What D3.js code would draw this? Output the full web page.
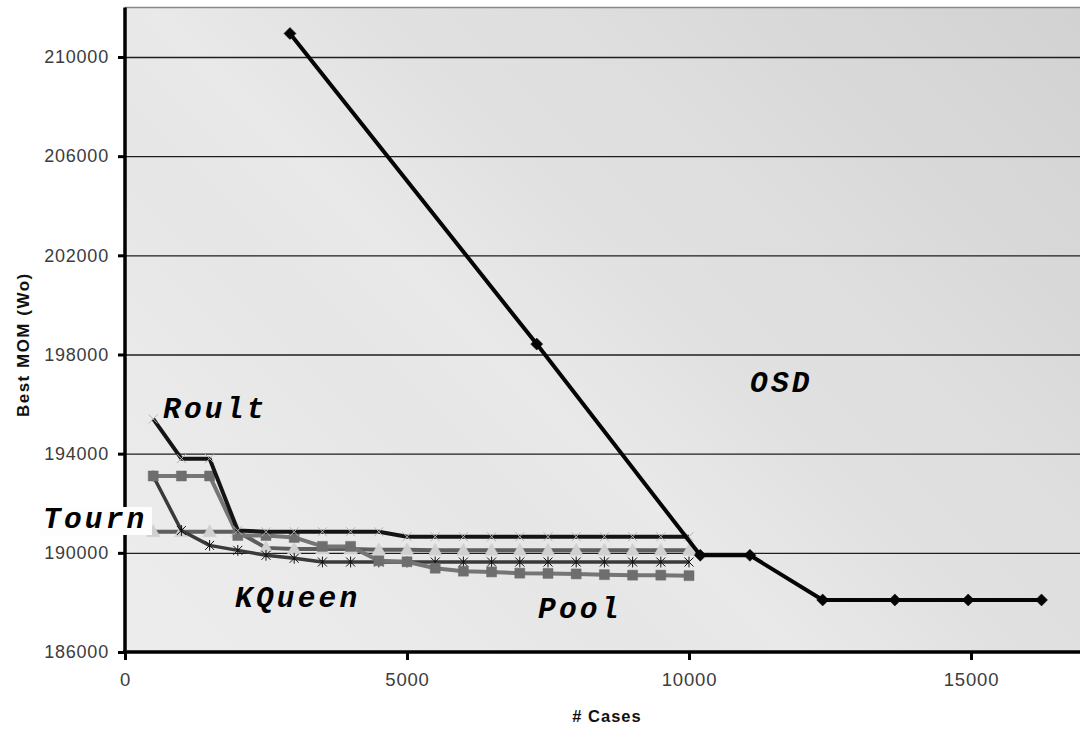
<!DOCTYPE html>
<html>
<head>
<meta charset="utf-8">
<script src="https://cdn.jsdelivr.net/npm/d3@7"></script>
<style>
  body { margin: 0; background: #fff; }
  svg { display: block; }
</style>
</head>
<body>
<svg id="chart" width="1080" height="729"></svg>
<script>
// ---- data ----
const cases = [500, 1000, 1500, 2000, 2500, 3000, 3500, 4000, 4500, 5000,
               5500, 6000, 6500, 7000, 7500, 8000, 8500, 9000, 9500, 10000];
const roult  = [195400, 193800, 193800, 190900, 190850, 190850, 190850, 190850, 190850, 190650,
                190650, 190650, 190650, 190650, 190650, 190650, 190650, 190650, 190650, 190650];
const pool   = [193100, 193100, 193100, 190700, 190700, 190620, 190260, 190260, 189680, 189640,
                189380, 189260, 189230, 189180, 189170, 189150, 189120, 189100, 189100, 189080];
const tourn  = [190850, 190850, 190850, 190850, 190200, 190150, 190150, 190150, 190120, 190120,
                190100, 190100, 190100, 190100, 190100, 190100, 190100, 190100, 190100, 190100];
const kqueen = [193100, 190900, 190300, 190100, 189900, 189780, 189630, 189630, 189630, 189630,
                189630, 189630, 189630, 189630, 189630, 189630, 189630, 189630, 189630, 189630];
const osdCases = [2925, 7300, 10200, 11080, 12370, 13650, 14950, 16250];
const osd      = [210950, 198420, 189900, 189900, 188100, 188100, 188100, 188100];

const yTicks = [186000, 190000, 194000, 198000, 202000, 206000, 210000];
const xTicks = [0, 5000, 10000, 15000];
const seriesNames = ["Roult", "Tourn", "KQueen", "Pool", "OSD"];

// ---- layout ----
const plotLeft = 125, plotBottom = 652, plotRight = 1080;
const svg = d3.select("#chart");

const x = d3.scaleLinear().domain([0, 15000]).range([plotLeft, 971]);
const y = d3.scaleLinear().domain([186000, 210000]).range([plotBottom, 57]);
const plotTop = y(212000);

// ---- plot background: diagonal grey wash ----
const defs = svg.append("defs");
const span = ((plotRight - plotLeft) + (plotBottom - plotTop)) / 2;
const grad = defs.append("linearGradient")
  .attr("id", "wash").attr("gradientUnits", "userSpaceOnUse")
  .attr("x1", plotLeft).attr("y1", plotBottom)
  .attr("x2", plotLeft + span).attr("y2", plotBottom - span);
[[0, "#ececec"], [0.18, "#eaeaea"], [0.32, "#e6e6e6"], [0.42, "#e9e9e9"],
 [0.55, "#e1e1e1"], [0.68, "#dedede"], [0.8, "#d9d9d9"], [1, "#d2d2d2"]]
  .forEach(([o, c]) => grad.append("stop").attr("offset", o).attr("stop-color", c));

svg.append("rect")
  .attr("x", plotLeft).attr("y", plotTop)
  .attr("width", plotRight - plotLeft).attr("height", plotBottom - plotTop)
  .attr("fill", "url(#wash)");

// top border of the plot area
svg.append("line")
  .attr("x1", plotLeft).attr("x2", plotRight).attr("y1", plotTop).attr("y2", plotTop)
  .attr("stroke", "#8a8a8a").attr("stroke-width", 1.5);

// ---- horizontal gridlines ----
svg.append("g")
  .attr("transform", `translate(${plotLeft},0)`)
  .call(d3.axisLeft(y).tickValues(yTicks.slice(1)).tickSize(-(plotRight - plotLeft)).tickFormat(""))
  .call(g => g.select(".domain").remove())
  .call(g => g.selectAll("line").attr("stroke", "#1e1e1e").attr("stroke-width", 1.4));

// ---- axes ----
const yAxis = svg.append("g")
  .attr("transform", `translate(${plotLeft},0)`)
  .call(d3.axisLeft(y).tickValues(yTicks).tickSize(7).tickPadding(9).tickFormat(d3.format("d")));
yAxis.select(".domain").remove();
yAxis.selectAll("line").attr("stroke", "#000").attr("stroke-width", 3);
yAxis.selectAll("text")
  .attr("font-family", "Liberation Sans, Arial, sans-serif")
  .attr("font-size", 18).attr("fill", "#3c3c3c").attr("letter-spacing", 0.8);

const xAxis = svg.append("g")
  .attr("transform", `translate(0,${plotBottom})`)
  .call(d3.axisBottom(x).tickValues(xTicks).tickSize(8).tickPadding(13).tickFormat(d3.format("d")));
xAxis.select(".domain").remove();
xAxis.selectAll("line").attr("stroke", "#000").attr("stroke-width", 3);
xAxis.selectAll("text")
  .attr("font-family", "Liberation Sans, Arial, sans-serif")
  .attr("font-size", 18.5).attr("fill", "#3c3c3c").attr("letter-spacing", 0.8);

// axis lines
svg.append("line")
  .attr("x1", plotLeft).attr("x2", plotLeft).attr("y1", plotTop).attr("y2", plotBottom + 2)
  .attr("stroke", "#000").attr("stroke-width", 3.5);
svg.append("line")
  .attr("x1", plotLeft - 2).attr("x2", plotRight).attr("y1", plotBottom).attr("y2", plotBottom)
  .attr("stroke", "#000").attr("stroke-width", 3.5);

// axis titles
svg.append("text")
  .attr("transform", `translate(29,${(plotTop + plotBottom) / 2 + 15}) rotate(-90)`)
  .attr("text-anchor", "middle")
  .attr("font-family", "Liberation Sans, Arial, sans-serif")
  .attr("font-weight", "bold").attr("font-size", 17).attr("letter-spacing", 1.5)
  .attr("fill", "#111")
  .text("Best MOM (Wo)");
svg.append("text")
  .attr("x", 607).attr("y", 722)
  .attr("text-anchor", "middle")
  .attr("font-family", "Liberation Sans, Arial, sans-serif")
  .attr("font-weight", "bold").attr("font-size", 16.5).attr("letter-spacing", 1)
  .attr("fill", "#111")
  .text("# Cases");

// ---- series ----
const line = d3.line().x(d => x(d[0])).y(d => y(d[1]));
const zip = (xs, ys) => xs.map((v, i) => [v, ys[i]]);

// marker shapes (centred at origin)
const shapes = {
  square:   s => `M${-s},${-s}H${s}V${s}H${-s}Z`,
  diamond:  s => `M0,${-s}L${s},0L0,${s}L${-s},0Z`,
  triangle: s => `M0,${-s * 1.1}L${s * 1.05},${s * 0.75}L${-s * 1.05},${s * 0.75}Z`,
  cross:    s => `M${-s},${-s}L${s},${s}M${-s},${s}L${s},${-s}`,
  star:     s => `M${-s},${-s}L${s},${s}M${-s},${s}L${s},${-s}M0,${-s * 1.2}V${s * 1.2}`
};

function drawSeries(pts, o) {
  const g = svg.append("g");
  g.append("path")
    .attr("d", line(pts))
    .attr("fill", "none")
    .attr("stroke", o.stroke).attr("stroke-width", o.width)
    .attr("stroke-linejoin", "round");
  g.selectAll("path.m").data(pts).join("path")
    .attr("class", "m")
    .attr("transform", d => `translate(${x(d[0])},${y(d[1])})`)
    .attr("d", shapes[o.shape](o.size))
    .attr("fill", o.filled ? o.mfill : "none")
    .attr("stroke", o.mstroke).attr("stroke-width", o.mwidth);
}

drawSeries(zip(cases, tourn),  { stroke: "#5e5e5e", width: 4, shape: "triangle", size: 6.5,
  filled: true, mfill: "#d0d0d0", mstroke: "#d0d0d0", mwidth: 0.5 });
drawSeries(zip(cases, kqueen), { stroke: "#3a3a3a", width: 3.5, shape: "star", size: 4.5,
  filled: false, mstroke: "#111", mwidth: 1 });
drawSeries(zip(cases, pool),   { stroke: "#757575", width: 4, shape: "square", size: 5,
  filled: true, mfill: "#6e6e6e", mstroke: "#6e6e6e", mwidth: 0.5 });
drawSeries(zip(cases, roult),  { stroke: "#141414", width: 4, shape: "cross", size: 4.5,
  filled: false, mstroke: "#b4b4b4", mwidth: 1 });
drawSeries(zip(osdCases, osd), { stroke: "#050505", width: 4, shape: "diamond", size: 6,
  filled: true, mfill: "#050505", mstroke: "#050505", mwidth: 0.5 });

// ---- series labels ----
const labelFont = "Liberation Mono, Courier New, monospace";
const labelPos = [[163, 418], [43, 528], [235, 607], [538, 618], [750, 392]];

// white box behind the Tourn label
svg.append("rect")
  .attr("x", 40).attr("y", 507).attr("width", 112).attr("height", 28)
  .attr("fill", "#fdfdfd");

svg.append("g").selectAll("text").data(seriesNames).join("text")
  .attr("x", (d, i) => labelPos[i][0])
  .attr("y", (d, i) => labelPos[i][1])
  .attr("font-family", labelFont)
  .attr("font-weight", "bold").attr("font-style", "italic")
  .attr("font-size", 29.5).attr("letter-spacing", 3.2)
  .attr("fill", "#000")
  .text(d => d);
</script>
</body>
</html>
